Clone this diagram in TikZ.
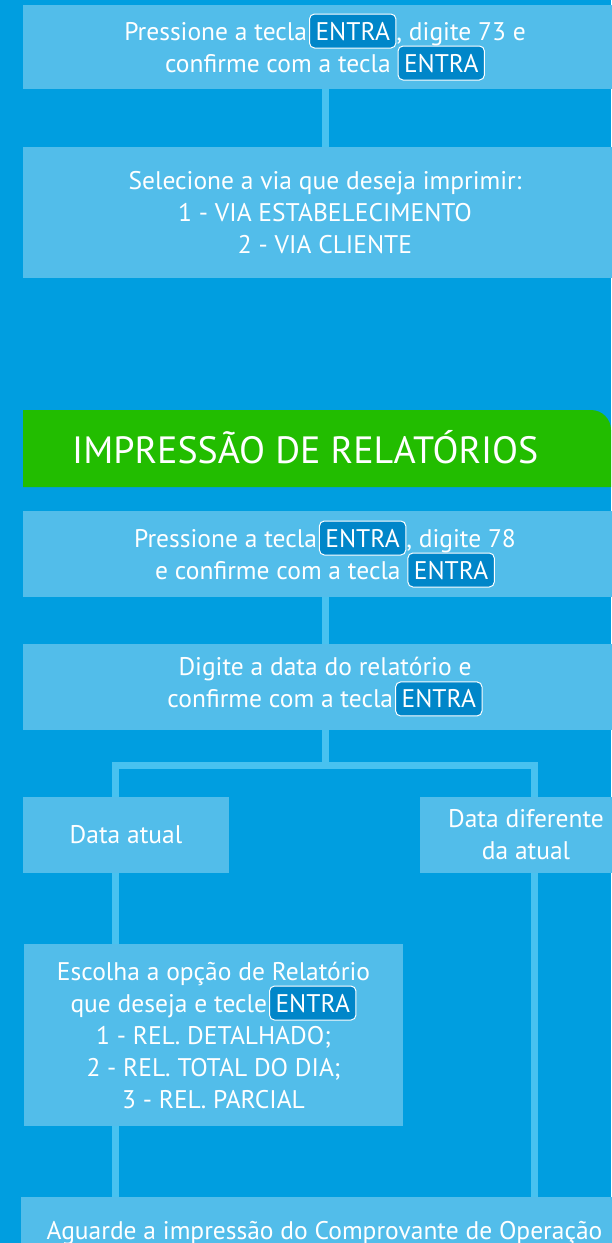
\documentclass[tikz,border=0pt]{standalone}
\usepackage{fontspec}
\setmainfont{PT Sans}
\definecolor{bg}{RGB}{0,158,224}
\definecolor{boxblue}{RGB}{82,189,234}
\definecolor{connblue}{RGB}{72,194,240}
\definecolor{keyblue}{RGB}{0,134,201}
\definecolor{hgreen}{RGB}{34,189,0}
\setlength{\lineskiplimit}{-20pt}
\tikzset{
  txt/.style={font=\fontsize{25.5}{32}\selectfont},
  box/.style={fill=boxblue, text=white, align=center, inner sep=0pt, txt},
  keybox/.style={fill=keyblue, draw=white, line width=1pt, rounded corners=5pt,
    inner xsep=6pt, inner ysep=7pt, text height=19pt, text depth=1pt, text=white, txt,
    minimum width=0pt, minimum height=0pt},
  conn/.style={draw=connblue, line width=7pt}
}
\newcommand{\entrakey}{\tikz[baseline=(k.base)]\node[keybox](k){ENTRA};}
\begin{document}
\begin{tikzpicture}[x=1pt,y=-1pt]
\useasboundingbox (0,0) rectangle (611,1243);
\fill[bg] (0,0) rectangle (611,1243);
% boxes
\node[box, minimum width=604pt, minimum height=84pt] (b1) at (325,47)
  {Pressione a tecla\hspace{2pt}\entrakey, digite 73 e\\ confirme com a tecla \entrakey};
\node[box, minimum width=604pt, minimum height=131pt] (b2) at (325,212.5)
  {Selecione a via que deseja imprimir:\\ 1 - VIA ESTABELECIMENTO\\ 2 - VIA CLIENTE};
\fill[hgreen] (23,410) -- (591,410) arc[start angle=90,end angle=0,radius=20pt] -- (611,487) -- (23,487) -- cycle;
\node[anchor=base west, text=white, font=\fontsize{38}{44}\selectfont, inner sep=0pt] (hdr) at (72,463) {IMPRESSÃO DE RELATÓRIOS};
\node[box, minimum width=604pt, minimum height=86pt] (b3) at (325,554)
  {Pressione a tecla\hspace{2pt}\entrakey, digite 78\\ e confirme com a tecla \entrakey};
\node[box, minimum width=604pt, minimum height=86pt] (b4) at (325,687)
  {Digite a data do relatório e\\ confirme com a tecla\hspace{2pt}\entrakey};
\node[box, minimum width=206pt, minimum height=76pt] (atual) at (126,835) {Data atual};
\node[box, minimum width=212pt, minimum height=76pt] (dif) at (526,835) {Data diferente\\ da atual};
\node[box, minimum width=379pt, minimum height=182pt] (escolha) at (213.5,1035)
  {Escolha a opção de Relatório\\ que deseja e tecle\hspace{2pt}\entrakey\\ 1 - REL. DETALHADO;\\ 2 - REL. TOTAL DO DIA;\\ 3 - REL. PARCIAL};
\node[box, minimum width=607pt, minimum height=72pt] (final) at (324.5,1233)
  {Aguarde a impressão do Comprovante de Operação};
% connectors
\coordinate (split) at (325,765);
\draw[conn] (b1.south) -- (b2.north);
\draw[conn] (b3.south) -- (b4.north);
\draw[conn] (b4.south) -- ([yshift=-3.5pt]split);
\draw[conn] ([xshift=-10.5pt]atual.north) -- ([xshift=-10.5pt]atual.north |- split)
  -- ([xshift=8pt]dif.north |- split) -- ([xshift=8pt]dif.north);
\draw[conn] ([xshift=-10.5pt]atual.south) -- ([xshift=-10.5pt]atual.south |- escolha.north);
\draw[conn] ([xshift=-10.5pt]atual.south |- escolha.south) -- ([xshift=-10.5pt]atual.south |- final.north);
\draw[conn] ([xshift=8pt]dif.south) -- ([xshift=8pt]dif.south |- final.north);
\end{tikzpicture}
\end{document}
